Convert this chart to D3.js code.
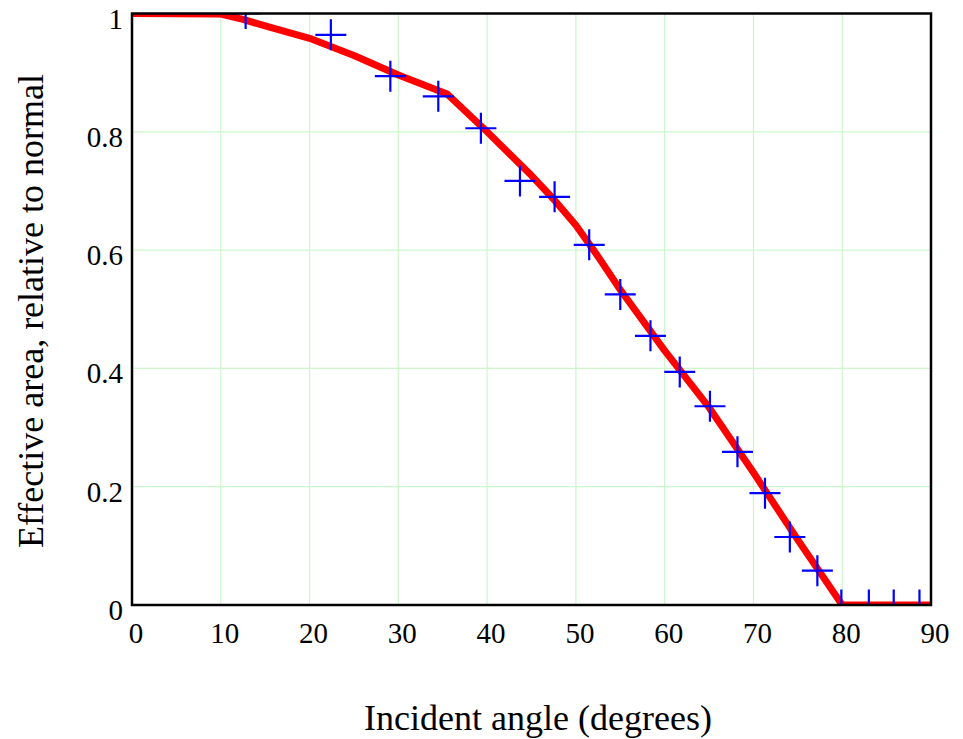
<!DOCTYPE html>
<html>
<head>
<meta charset="utf-8">
<script src="https://cdn.jsdelivr.net/npm/d3@7"></script>
<style>
	body { margin: 0; background: #fff; }
	text { font-family: "Liberation Serif", "Times New Roman", serif; fill: #000; }
</style>
</head>
<body>
<script>
// red model curve
var curveAngles = [0, 10, 12.5, 15, 20, 25, 30, 35.5, 40, 45, 47.5, 50, 52.5, 55, 60, 65, 70, 75, 80, 90];
var curveValues = [1, 0.999, 0.99, 0.979, 0.958, 0.929, 0.896, 0.864, 0.8, 0.726, 0.686, 0.642, 0.589, 0.533, 0.43, 0.334, 0.224, 0.11, 0, 0];

// blue measured points
var pointAngles = [12.8, 22.4, 29.1, 34.5, 39.3, 43.7, 47.6, 51.5, 55.0, 58.4, 61.7, 65.1, 68.2, 71.3, 74.1, 77.2, 79.9, 83.0, 85.8, 88.7];
var pointValues = [1.0, 0.964, 0.894, 0.86, 0.806, 0.717, 0.69, 0.609, 0.525, 0.455, 0.394, 0.336, 0.259, 0.189, 0.115, 0.058, 0, 0, 0, 0];

var xTicks = [0, 10, 20, 30, 40, 50, 60, 70, 80, 90];
var yTicks = [0, 0.2, 0.4, 0.6, 0.8, 1];

var width = 963, height = 739;
var plotLeft = 132, plotRight = 931, plotTop = 13.5, plotBottom = 605;

var x = d3.scaleLinear().domain([0, 90]).range([plotLeft, plotRight]);
var y = d3.scaleLinear().domain([0, 1]).range([plotBottom, plotTop]);

var curve = curveAngles.map(function (a, i) { return {a: a, v: curveValues[i]}; });
var points = pointAngles.map(function (a, i) { return {a: a, v: pointValues[i]}; });

var svg = d3.select("body").append("svg")
	.attr("width", width)
	.attr("height", height);

svg.append("clipPath")
	.attr("id", "plot")
	.append("rect")
	.attr("x", plotLeft)
	.attr("y", plotTop)
	.attr("width", plotRight - plotLeft)
	.attr("height", plotBottom - plotTop);

// grid
svg.append("g")
	.selectAll("line")
	.data(xTicks.slice(1, -1))
	.enter().append("line")
	.attr("x1", function (d) { return x(d); })
	.attr("x2", function (d) { return x(d); })
	.attr("y1", plotTop)
	.attr("y2", plotBottom)
	.attr("stroke", "#ccf7cc")
	.attr("stroke-width", 1.2);

svg.append("g")
	.selectAll("line")
	.data(yTicks.slice(1, -1))
	.enter().append("line")
	.attr("x1", plotLeft)
	.attr("x2", plotRight)
	.attr("y1", function (d) { return y(d); })
	.attr("y2", function (d) { return y(d); })
	.attr("stroke", "#ccf7cc")
	.attr("stroke-width", 1.2);

var plot = svg.append("g").attr("clip-path", "url(#plot)");

var line = d3.line()
	.x(function (d) { return x(d.a); })
	.y(function (d) { return y(d.v); });

plot.append("path")
	.datum(curve)
	.attr("fill", "none")
	.attr("stroke", "#ff0000")
	.attr("stroke-width", 7)
	.attr("stroke-linejoin", "round")
	.attr("d", line);

var cross = plot.selectAll("g.cross")
	.data(points)
	.enter().append("g")
	.attr("class", "cross")
	.attr("transform", function (d) { return "translate(" + x(d.a) + "," + y(d.v) + ")"; });

cross.append("path")
	.attr("d", "M-15.5,0H15.5M0,-15.5V15.5")
	.attr("stroke", "#0000ff")
	.attr("stroke-width", 2.2)
	.attr("fill", "none");

// frame
svg.append("rect")
	.attr("x", plotLeft)
	.attr("y", plotTop)
	.attr("width", plotRight - plotLeft)
	.attr("height", plotBottom - plotTop)
	.attr("fill", "none")
	.attr("stroke", "#000")
	.attr("stroke-width", 2.5);

// tick labels
svg.append("g")
	.selectAll("text")
	.data(xTicks)
	.enter().append("text")
	.attr("x", function (d) { return x(d) + 4; })
	.attr("y", 643)
	.attr("text-anchor", "middle")
	.attr("font-size", 29)
	.text(function (d) { return d; });

svg.append("g")
	.selectAll("text")
	.data(yTicks)
	.enter().append("text")
	.attr("x", 123)
	.attr("y", function (d) { return y(d) + 15; })
	.attr("text-anchor", "end")
	.attr("font-size", 29)
	.text(function (d) { return d; });

// axis titles
svg.append("text")
	.attr("x", 538)
	.attr("y", 730)
	.attr("text-anchor", "middle")
	.attr("font-size", 36)
	.text("Incident angle (degrees)");

svg.append("text")
	.attr("transform", "translate(43,311) rotate(-90)")
	.attr("text-anchor", "middle")
	.attr("font-size", 36)
	.text("Effective area, relative to normal");
</script>
</body>
</html>
